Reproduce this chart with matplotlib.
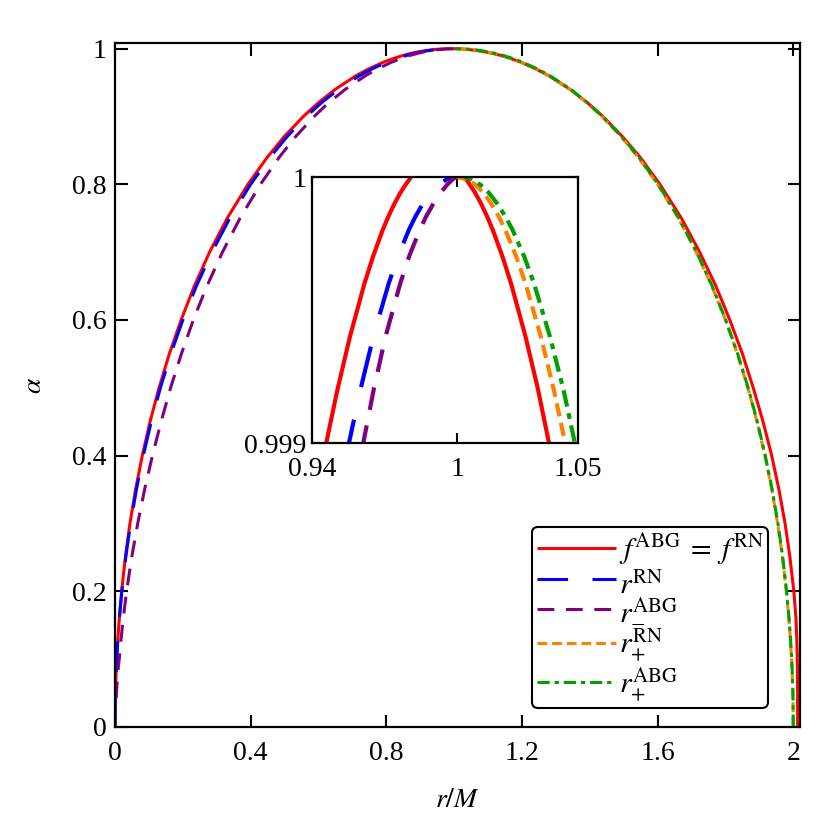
import matplotlib
matplotlib.use("Agg")
import matplotlib.pyplot as plt

plt.rcParams['font.family'] = ['Liberation Serif', 'DejaVu Serif']
plt.rcParams['mathtext.fontset'] = 'stix'

# ---------------- data ----------------
# f^ABG = f^RN  (red, one continuous curve over both branches)
red_r = [0.0, 0.0002, 0.00125, 0.0032, 0.005, 0.0085, 0.0128, 0.0197, 0.0305, 0.0441,
         0.0607, 0.0805, 0.1035, 0.1300, 0.1603, 0.1950, 0.2340, 0.2789, 0.3310, 0.3920,
         0.4492, 0.4983, 0.5551, 0.5988, 0.6492, 0.7101, 0.7469, 0.7910, 0.8175, 0.8489,
         0.8719, 0.8901, 0.9130, 0.9274, 0.9357, 0.9459, 0.9505, 0.9557, 0.9617, 0.9652,
         0.9692, 0.9715, 0.9741, 0.9765, 0.9786, 0.9810, 0.9831, 0.9857, 0.9875, 0.9920,
         0.9965, 0.9983, 1.0009, 1.0030, 1.0054, 1.0075, 1.0099, 1.0125, 1.0148, 1.0188,
         1.0223, 1.0283, 1.0335, 1.0380, 1.0479, 1.0566, 1.0702, 1.0940, 1.1146, 1.1381,
         1.1700, 1.1970, 1.2421, 1.2795, 1.3422, 1.3939, 1.4389, 1.4971, 1.5486, 1.6070,
         1.6704, 1.7241, 1.7719, 1.8130, 1.8502, 1.8820, 1.9110, 1.9365, 1.9578, 1.9759,
         1.9903, 2.0018, 2.0081, 2.0105, 2.0120, 2.0128, 2.0130, 2.0130, 2.0130]
red_a = [0.0, 0.02, 0.05, 0.08, 0.1, 0.13, 0.16, 0.2, 0.25, 0.3,
         0.35, 0.4, 0.45, 0.5, 0.55, 0.6, 0.65, 0.7, 0.75, 0.8,
         0.84, 0.87, 0.9, 0.92, 0.94, 0.96, 0.97, 0.98, 0.985, 0.99,
         0.993, 0.995, 0.997, 0.998, 0.9985, 0.999, 0.9992, 0.9994, 0.9996, 0.9997,
         0.9998, 0.99985, 0.9999, 0.99994, 0.99997, 1.0, 1.00002, 1.00004, 1.00005, 1.00006,
         1.00005, 1.00004, 1.00002, 1.0, 0.99997, 0.99994, 0.9999, 0.99985, 0.9998, 0.9997,
         0.9996, 0.9994, 0.9992, 0.999, 0.9985, 0.998, 0.997, 0.995, 0.993, 0.99,
         0.985, 0.98, 0.97, 0.96, 0.94, 0.92, 0.9, 0.87, 0.84, 0.8,
         0.75, 0.7, 0.65, 0.6, 0.55, 0.5, 0.45, 0.4, 0.35, 0.3,
         0.25, 0.2, 0.16, 0.13, 0.1, 0.08, 0.05, 0.02, 0.0]

# horizon curves, common alpha grid
alpha = [0.0, 0.02, 0.05, 0.08, 0.1, 0.13, 0.16, 0.2, 0.25, 0.3,
         0.35, 0.4, 0.45, 0.5, 0.55, 0.6, 0.65, 0.7, 0.75, 0.8,
         0.84, 0.87, 0.9, 0.92, 0.94, 0.96, 0.97, 0.98, 0.985, 0.99,
         0.993, 0.995, 0.997, 0.998, 0.9985, 0.999, 0.9992, 0.9994, 0.9996, 0.9997,
         0.9998, 0.99985, 0.9999, 0.99994, 0.99997, 0.99999, 1.0]

rm_RN = [0.0, 0.0002, 0.00125, 0.00321, 0.00501, 0.00849, 0.01288, 0.0202, 0.03175, 0.04606,
         0.06325, 0.08348, 0.10697, 0.13397, 0.16483, 0.2, 0.24007, 0.28586, 0.33856, 0.4,
         0.45741, 0.50695, 0.56411, 0.60808, 0.65883, 0.72, 0.7569, 0.801, 0.82745, 0.85893,
         0.88189, 0.90012, 0.9226, 0.93679, 0.94525, 0.95529, 0.96001, 0.96536, 0.97172, 0.97551,
         0.98, 0.98268, 0.98586, 0.98905, 0.99225, 0.99553, 1.0]

rm_ABG = [0.0, 0.0012, 0.0043, 0.0082, 0.0125, 0.0180, 0.0244, 0.0342, 0.0493, 0.0671,
          0.0873, 0.1105, 0.1360, 0.1640, 0.1958, 0.2310, 0.2711, 0.3169, 0.3686, 0.4290,
          0.4844, 0.5320, 0.5871, 0.6291, 0.6788, 0.7380, 0.7729, 0.8150, 0.8395, 0.8689,
          0.8909, 0.9081, 0.9296, 0.9433, 0.9513, 0.9612, 0.9655, 0.9704, 0.9765, 0.9801,
          0.9845, 0.9871, 0.9902, 0.9931, 0.9958, 0.9980, 0.9995]

rp_RN = [2.0, 1.9998, 1.99875, 1.99679, 1.99499, 1.99151, 1.98712, 1.9798, 1.96825, 1.95394,
         1.93675, 1.91652, 1.89303, 1.86603, 1.83517, 1.8, 1.75993, 1.71414, 1.66144, 1.6,
         1.54259, 1.49305, 1.43589, 1.39192, 1.34117, 1.28, 1.2431, 1.199, 1.17255, 1.14107,
         1.11811, 1.09988, 1.0774, 1.06321, 1.05475, 1.04471, 1.03999, 1.03464, 1.02828, 1.02449,
         1.02, 1.01732, 1.01414, 1.01095, 1.00775, 1.00447, 1.0]

rp_ABG = [2.0, 1.9999, 1.9991, 1.9972, 1.9954, 1.9920, 1.9876, 1.9803, 1.9690, 1.9549,
          1.9378, 1.9175, 1.8940, 1.8670, 1.8362, 1.8010, 1.7609, 1.7151, 1.6629, 1.6020,
          1.5446, 1.4950, 1.4379, 1.3944, 1.3442, 1.2830, 1.2461, 1.2020, 1.1765, 1.1451,
          1.1221, 1.1039, 1.0814, 1.0672, 1.0588, 1.0487, 1.0440, 1.0384, 1.0318, 1.0278,
          1.0230, 1.0201, 1.0166, 1.0132, 1.0098, 1.0062, 1.0030]

labels = [r'$f^{\rm ABG}\;=\;f^{\rm RN}$', r'$r_{-}^{\rm RN}$', r'$r_{-}^{\rm ABG}$',
          r'$r_{+}^{\rm RN}$', r'$r_{+}^{\rm ABG}$']
colors = ['#ff0000', '#0000ff', '#800080', '#ff8000', '#00a000']

FS = 20

fig = plt.figure(figsize=(8.3, 8.3), dpi=100)
ax = fig.add_axes([115/830, (830-726.7)/830, 685/830, (726.7-43.3)/830])


def draw(a, lw):
    a.plot(red_r, red_a, color=colors[0], lw=lw, solid_capstyle='butt', label=labels[0])
    a.plot(rm_RN, alpha, color=colors[1], lw=lw, dashes=(10, 8), label=labels[1])
    a.plot(rm_ABG, alpha, color=colors[2], lw=lw, dashes=(5.5, 3.8), label=labels[2])
    a.plot(rp_RN, alpha, color=colors[3], lw=lw, dashes=(3.2, 1.6), label=labels[3])
    a.plot(rp_ABG, alpha, color=colors[4], lw=lw, dashes=(4, 1.6, 1.4, 1.6), label=labels[4])


draw(ax, 2.2)
ax.set_xlim(0, 2.02)
ax.set_ylim(0, 1.008)
ax.set_xticks([0, 0.4, 0.8, 1.2, 1.6, 2.0])
ax.set_xticklabels(['0', '0.4', '0.8', '1.2', '1.6', '2'])
ax.set_yticks([0, 0.2, 0.4, 0.6, 0.8, 1.0])
ax.set_yticklabels(['0', '0.2', '0.4', '0.6', '0.8', '1'])
ax.tick_params(direction='in', top=True, right=True, length=9, width=1.5,
               labelsize=FS)
ax.tick_params(axis='x', pad=10)
ax.tick_params(axis='y', pad=6)
for s in ax.spines.values():
    s.set_linewidth(1.6)
ax.set_xlabel(r'$r/M$', fontsize=FS, labelpad=16)
ax.set_ylabel(r'$\alpha$', fontsize=FS, labelpad=18)

leg = ax.legend(loc='lower right', bbox_to_anchor=(768/830, (830-708)/830),
                bbox_transform=fig.transFigure, fontsize=21.5, frameon=True,
                fancybox=True, edgecolor='black', framealpha=1,
                handlelength=2.65, handletextpad=0.1, labelspacing=0.05,
                borderpad=0.15, borderaxespad=0)
leg.get_frame().set_linewidth(1.5)

# inset
axi = fig.add_axes([312/830, (830-443)/830, 266/830, 266/830])
draw(axi, 3.0)
axi.set_xlim(0.94, 1.05)
axi.set_ylim(0.999, 1.0)
axi.set_xticks([0.94, 1.0, 1.05])
axi.set_xticklabels(['0.94', '1', '1.05'])
axi.set_yticks([0.999, 1.0])
axi.set_yticklabels(['0.999', '1'])
axi.tick_params(direction='in', top=True, right=True, length=7, width=1.5,
                labelsize=FS)
axi.tick_params(axis='x', pad=10)
axi.tick_params(axis='y', pad=4)
for s in axi.spines.values():
    s.set_linewidth(1.6)

fig.savefig('out.png', dpi=100)
